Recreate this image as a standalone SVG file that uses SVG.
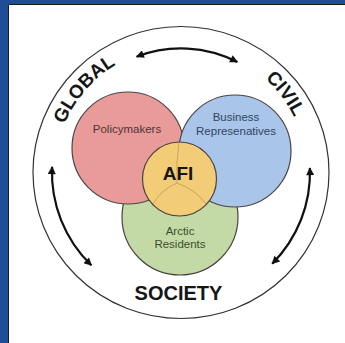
<svg xmlns="http://www.w3.org/2000/svg" width="345" height="343" viewBox="0 0 345 343">
<style>
.venn{stroke:#4a4444;stroke-width:1.2}
.lbl{font-family:"Liberation Sans",Arial,sans-serif;font-size:11.5px;text-anchor:middle}
.big{font-family:"Liberation Sans",Arial,sans-serif;font-weight:bold;fill:#161616}
.arr{fill:none;stroke:#111;stroke-width:2.2;marker-start:url(#ah);marker-end:url(#ah)}
</style>
<defs>
<marker id="ah" viewBox="0 0 10 10" refX="9" refY="5" markerWidth="9" markerHeight="8" markerUnits="userSpaceOnUse" orient="auto-start-reverse">
<path d="M0,0 L10,5 L0,10 z" fill="#111"/>
</marker>
<path id="ring" d="M55,172.5 A126,126 0 0 1 307,172.5"/>
</defs>
<rect x="0" y="0" width="345" height="343" fill="#1e4e98"/>
<rect x="8" y="4" width="337" height="339" fill="#ffffff"/>
<path d="M8.5,343 V4.5 H345" fill="none" stroke="#1a1a1a" stroke-width="1"/>
<g id="outer">
<ellipse cx="181" cy="172.5" rx="148" ry="146" fill="none" stroke="#333" stroke-width="1.2"/>
</g>
<g id="arctic-residents">
<circle class="venn" cx="180" cy="217" r="58" fill="#c4daa6"/>
</g>
<g id="policymakers">
<circle class="venn" cx="128" cy="148" r="56" fill="#e99b9a"/>
</g>
<g id="business">
<circle class="venn" cx="235" cy="151" r="56" fill="#a9c5ea"/>
</g>
<g id="afi">
<circle cx="179.5" cy="179" r="37" fill="#f3cc78"/>
<path d="M179,142 Q176,162 177,183 M177,183 Q160,190 152,206 M177,183 Q196,190 206,204" fill="none" stroke="#caa462" stroke-width="1"/>
<circle class="venn" cx="179.5" cy="179" r="37" fill="none"/>
<text class="big" x="178" y="180" font-size="19" text-anchor="middle">AFI</text>
</g>
<g id="labels">
<text class="lbl" x="127" y="133" fill="#4d3536">Policymakers</text>
<text class="lbl" x="236" y="121" fill="#33445e">Business</text>
<text class="lbl" x="236" y="135" fill="#33445e">Represenatives</text>
<text class="lbl" x="180" y="235" fill="#3b4d2e">Arctic</text>
<text class="lbl" x="180" y="248" fill="#3b4d2e">Residents</text>
</g>
<g id="ring-labels">
<text class="big" font-size="19"><textPath href="#ring" startOffset="22.6%" text-anchor="middle">GLOBAL</textPath></text>
<text class="big" font-size="19"><textPath href="#ring" startOffset="79.4%" text-anchor="middle">CIVIL</textPath></text>
<text class="big" x="178.5" y="300" font-size="20" text-anchor="middle">SOCIETY</text>
</g>
<g id="connectors">
<path class="arr" d="M136.6,56.7 A124,124 0 0 1 237.3,62"/>
<path class="arr" d="M52.1,166.9 A129,129 0 0 0 91.4,265.3"/>
<path class="arr" d="M309.9,168 A129,129 0 0 1 272.2,263.7"/>
</g>
</svg>
